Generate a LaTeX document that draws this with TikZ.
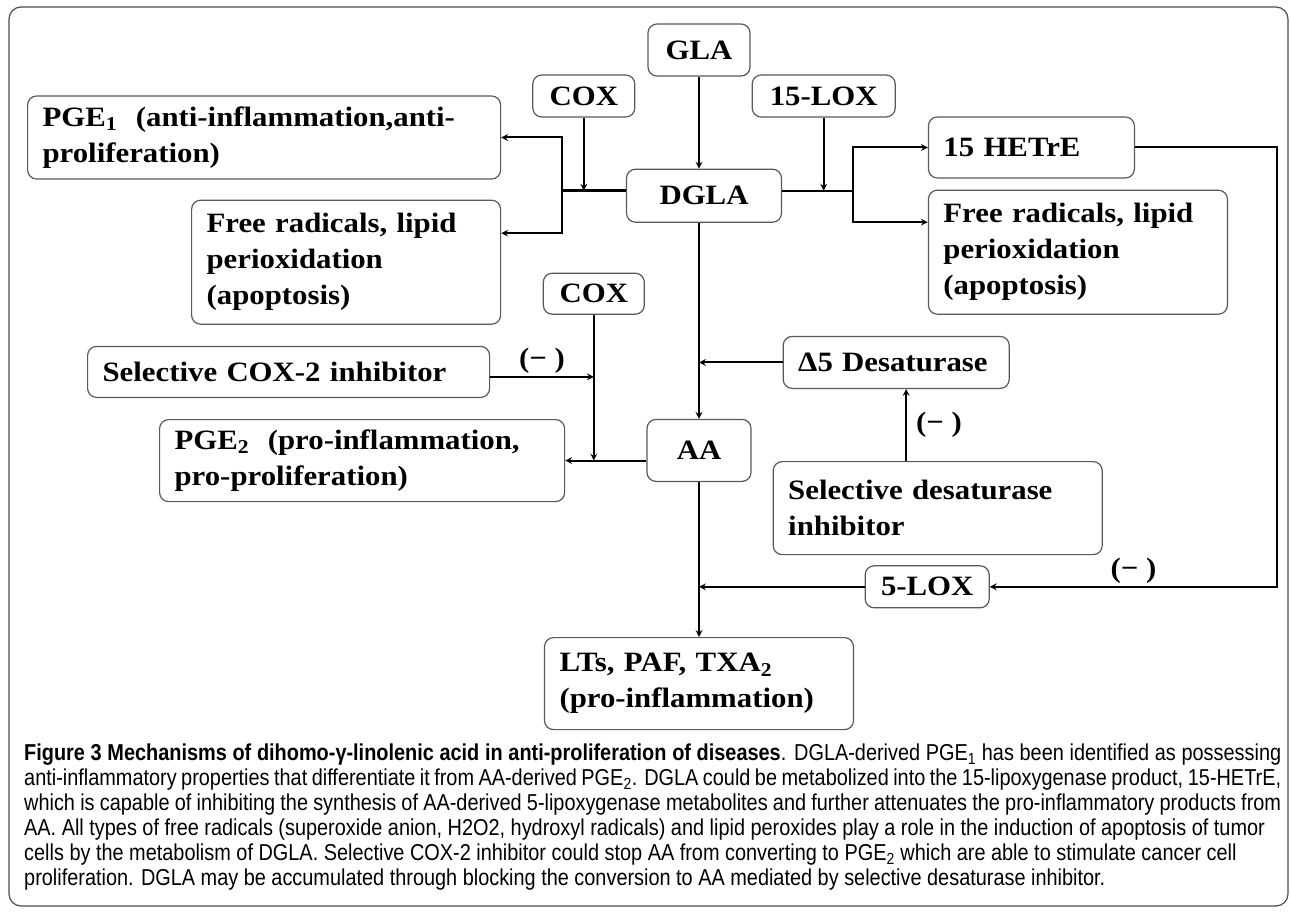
\documentclass[tikz,border=0pt]{standalone}
\usepackage{fontspec}
\usetikzlibrary{arrows,positioning,calc}
\newfontfamily\diagfont{Liberation Serif}[FakeStretch=1.1]
\newfontfamily\capfont{Liberation Sans}[FakeStretch=0.865]
\newcommand{\fullline}[1]{\makebox[1257pt][s]{#1}}

\begin{document}
\begin{tikzpicture}[
  x=1pt, y=1pt,
  block/.style={rectangle, draw=black!65, line width=1.2pt, rounded corners=9pt, align=center, inner xsep=15pt, inner ysep=3pt, font=\diagfont\bfseries\fontsize{28pt}{36pt}\selectfont},
  textblock/.style={block, align=left},
  arrow/.style={->, >=stealth, line width=2pt},
  minus/.style={inner sep=1pt, font=\diagfont\bfseries\fontsize{28pt}{36pt}\selectfont}
]
  \useasboundingbox (0,0) rectangle (1290,-912);
  \draw[line width=1.2pt, draw=black!70, rounded corners=12pt] (9,-7) rectangle (1288,-906);

  % DGLA pathway
  \node[block, minimum width=102pt, minimum height=52pt] (gla) at (699,-50) {GLA};
  \node[block, minimum width=155pt, minimum height=53pt, below=92pt of gla, xshift=5pt] (dgla) {DGLA};
  \node[block, minimum width=102pt, minimum height=42pt, left=12pt of gla, yshift=-46pt] (coxa) {COX};
  \node[block, minimum width=143pt, minimum height=42pt, right=1pt of gla, yshift=-46pt] (loxa) {15-LOX};

  \node[textblock, text width=443pt, minimum height=83pt, left=31pt of coxa, yshift=-41.5pt] (pgea) {PGE\textsubscript{1}\ \ (anti-inflammation,anti-\\proliferation)};
  \node[textblock, text width=279pt, minimum height=124pt, below=20pt of pgea.south east, anchor=north east] (frl) {Free radicals, lipid\\perioxidation\\(apoptosis)};
  \node[textblock, text width=176pt, minimum height=61pt, right=32pt of loxa, yshift=-51.5pt] (hetre) {15 HETrE};
  \node[textblock, text width=269pt, minimum height=124pt, below=11pt of hetre.south west, anchor=north west] (frr) {Free radicals, lipid\\perioxidation\\(apoptosis)};

  % AA pathway
  \node[block, minimum width=101pt, minimum height=41pt, below=155pt of coxa, xshift=10pt] (coxb) {COX};
  \node[textblock, text width=372pt, minimum height=51pt, below=21pt of frl.south east, anchor=north east, xshift=-11pt] (sci) {Selective COX-2 inhibitor};
  \node[textblock, text width=375pt, minimum height=82pt, below=21pt of sci.south east, anchor=north east, xshift=75pt] (pgeb) {PGE\textsubscript{2}\ \ (pro-inflammation,\\pro-proliferation)};
  \node[block, minimum width=104pt, minimum height=62pt, below=196pt of dgla, xshift=-5pt] (aa) {AA};
  \node[textblock, text width=196pt, minimum height=52pt, right=31pt of aa, yshift=88pt] (desat) {Δ5 Desaturase};
  \node[textblock, text width=299pt, minimum height=93pt, below=72pt of desat.south west, anchor=north west, xshift=-10pt] (sdi) {Selective desaturase\\inhibitor};
  \node[block, minimum width=124pt, minimum height=42pt, below=10pt of sdi.south west, anchor=north west, xshift=92pt] (lox) {5-LOX};
  \node[textblock, text width=279pt, minimum height=92pt, below=155pt of aa] (lts) {LTs, PAF, TXA\textsubscript{2}\\(pro-inflammation)};

  % junctions
  \coordinate (jl) at ($(dgla.west)+(-64pt,5pt)$);
  \coordinate (jr) at ($(dgla.east)+(71pt,5pt)$);
  \coordinate (frlin) at ([yshift=29pt]frl.east);
  \coordinate (frrin) at ([yshift=30pt]frr.west);
  \coordinate (rc) at ($(hetre.east)+(142pt,0)$);

  \draw[arrow] (gla.south) -- (gla.south |- dgla.north);
  \draw[line width=3.2pt] ([yshift=5pt]dgla.west) -- (jl);
  \draw[line width=2pt] ([yshift=5pt]dgla.east) -- (jr);
  \draw[arrow] (coxa.south) -- (coxa.south |- jl);
  \draw[arrow] (loxa.south) -- (loxa.south |- jr);
  \draw[arrow] (jl) |- (pgea.east);
  \draw[arrow] (jl) |- (frlin);
  \draw[arrow] (jr) |- (hetre.west);
  \draw[arrow] (jr) |- (frrin);

  \draw[arrow] (aa.north |- dgla.south) -- (aa.north);
  \draw[arrow] (desat.west) -- (desat.west -| aa.north);
  \draw[arrow] (aa.west |- pgeb.east) -- (pgeb.east);
  \draw[arrow] (coxb.south) -- (coxb.south |- pgeb.east);
  \draw[arrow] ([yshift=-5pt]sci.east) -- ([yshift=-5pt]sci.east -| coxb.south) node[minus, midway, above=1pt] (minusa) {(−\ )};
  \draw[arrow] ([xshift=10pt]desat.south |- sdi.north) -- ([xshift=10pt]desat.south) node[minus, midway, right=8pt] (minusb) {(−\ )};
  \draw[arrow] (hetre.east) -| (rc |- lox.east) -- (lox.east) node[minus, midway, above=1pt] (minusc) {(−\ )};
  \draw[arrow] (lox.west) -- (lox.west -| aa.south);
  \draw[arrow] (aa.south) -- (lts.north);

  \node[anchor=north west, inner sep=0pt, align=left, font=\capfont\fontsize{23pt}{25pt}\selectfont] (caption) at (24,-744) {%
    \fullline{{\bfseries Figure 3 Mechanisms of dihomo-γ-linolenic acid in anti-proliferation of diseases}. DGLA-derived PGE\textsubscript{1} has been identified as possessing}\\
    \fullline{anti-inflammatory properties that differentiate it from AA-derived PGE\textsubscript{2}. DGLA could be metabolized into the 15-lipoxygenase product, 15-HETrE,}\\
    \fullline{which is capable of inhibiting the synthesis of AA-derived 5-lipoxygenase metabolites and further attenuates the pro-inflammatory products from}\\
    AA. All types of free radicals (superoxide anion, H2O2, hydroxyl radicals) and lipid peroxides play a role in the induction of apoptosis of tumor\\
    cells by the metabolism of DGLA. Selective COX-2 inhibitor could stop AA from converting to PGE\textsubscript{2} which are able to stimulate cancer cell\\
    proliferation. DGLA may be accumulated through blocking the conversion to AA mediated by selective desaturase inhibitor.};
\end{tikzpicture}
\end{document}
